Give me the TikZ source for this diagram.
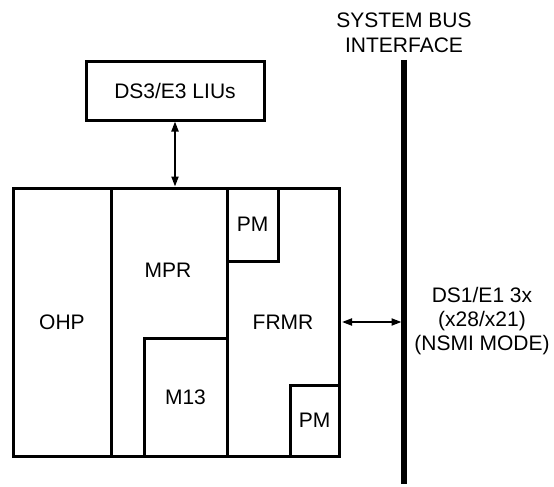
\documentclass[tikz,border=0pt]{standalone}
\usepackage{fontspec}
\setmainfont{Liberation Sans}
\usetikzlibrary{positioning, arrows.meta}
\tikzset{
  block/.style={
    draw=black,
    line width=3pt,
    rectangle,
    inner sep=0pt
  },
  lbl/.style={
    font=\fontsize{21}{24}\selectfont,
    align=center,
    inner sep=0pt
  },
  bus/.style={
    draw=black,
    line width=5.5pt
  },
  link/.style={
    <->,
    >={Triangle[length=10pt,width=7pt]},
    line width=2pt,
    draw=black
  }
}

\begin{document}
\begin{tikzpicture}[x=1pt, y=-1pt]
  \useasboundingbox (0,0) rectangle (554,487);

  % line interface block
  \node[block, lbl, minimum width=178pt, minimum height=58pt] (lius) at (175,91) {DS3/E3 LIUs};

  % main device
  \node[block, lbl, minimum width=98pt, minimum height=268pt] (ohp) at (62,322) {OHP};
  \node[block, minimum width=116pt, minimum height=268pt] (mpr) at (169,322) {};
  \node[block, lbl, minimum width=112pt, minimum height=268pt] (frmr) at (283,322) {FRMR};
  \node[lbl] (mprtext) at (168,270) {MPR};
  \node[block, lbl, minimum width=83pt, minimum height=118pt] (m13) at (185.5,397) {M13};
  \node[block, lbl, minimum width=51pt, minimum height=73pt] (pmtop) at (252.5,224.5) {PM};
  \node[block, lbl, minimum width=49pt, minimum height=71pt] (pmbot) at (314.5,420.5) {PM};

  % system bus
  \coordinate (bustop) at (404,60);
  \coordinate (busbot) at (404,484);
  \draw[bus] (bustop) -- (busbot);
  \node[lbl, font=\fontsize{21}{25}\selectfont] (bustext) at (404,33) {SYSTEM BUS\\INTERFACE};
  \node[lbl] (ds1text) at (482,321) {DS1/E1 3x\\(x28/x21)\\(NSMI MODE)};

  % connections
  \draw[link] (lius.south) -- (lius.south |- mpr.north);
  \draw[link, shorten <=1.5pt, shorten >=2.5pt] (frmr.east) -- (frmr.east -| bustop);
\end{tikzpicture}
\end{document}
